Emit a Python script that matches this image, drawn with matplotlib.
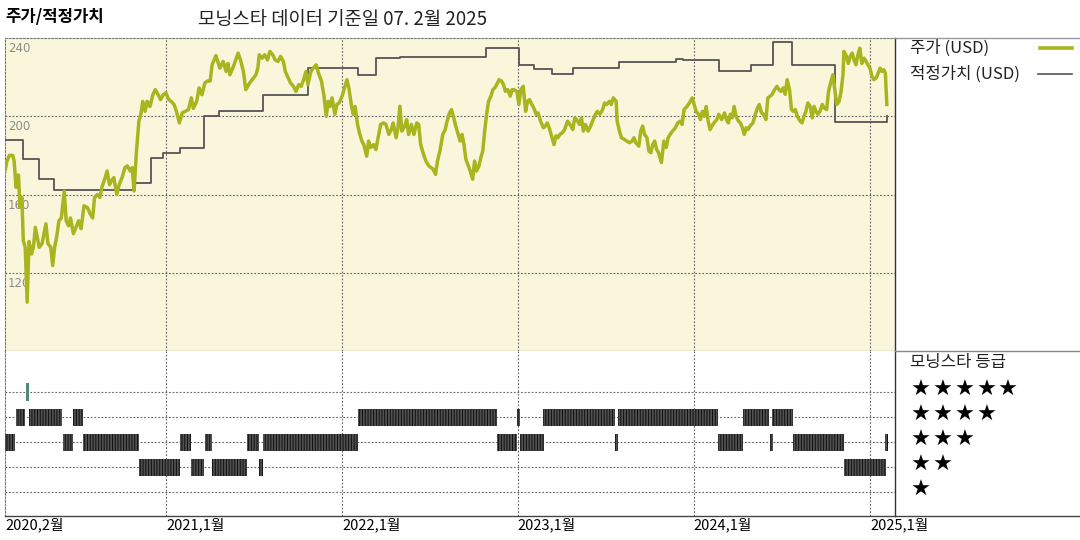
import matplotlib
matplotlib.use('Agg')
import matplotlib.pyplot as plt
import pandas as pd
from matplotlib.lines import Line2D

plt.rcParams['font.family'] = ['Noto Sans CJK KR', 'DejaVu Sans']
plt.rcParams['hatch.linewidth'] = 0.7

# ---------------- data ----------------
start_date = pd.Timestamp('2020-02-01')   # day 0
end_day = 1848                            # right edge of the time axis (days from start)

# price (USD): (days since start, price)
price_a = [(0,172),(4,177),(9,180),(16,180),(19,177),(23,163.6),(28,170),(31,153.4),(35,158.5),(38,136.4),
           (42,133),(46,105),(50,136),(55,129.6),(59,133),(63,143.2),(67,138),(71,133),(77,135),(81,140),
           (85,145),(89,135),(95,133),(99,123.7),(103,133),(107,138),(112,146.6),(117,148),(123,161.8),(127,146.6),
           (132,144),(136,148),(142,140),(147,143),(153,146.6),(158,142.5),(164,154.2),(171,153.4),(177,150),(182,148),
           (186,158.5),(192,160),(197,158.5),(201,163.6),(208,168.6),(212,172),(217,165),(221,167),(226,168.6),(232,160),
           (237,165),(243,168.6),(249,173.7),(254,174.6),(260,172),(264,173.7),(268,161.8),(273,182.2),(278,197.5),(282,200.9),
           (286,207.6),(291,202.5),(295,207.6),(301,205),(307,211),(312,213.6),(318,211),(323,208.5),(329,211),(334,212),
           (340,208.5),(345,207.6),(351,206),(356,202.5),(362,196.6),(368,201.7),(374,202.5),(381,203.4),(387,209.4),(391,204),
           (398,207.6),(403,214.5),(409,211),(415,217),(420,218),(426,218),(430,226.3),(438,231)]
price_b = [(446,224.6),(453,228),(459,222.9),(463,227),(467,221.2),(473,224.6),(478,228),(484,232.3),(489,228.8),(495,222.9),
           (500,213.6),(506,216.2),(511,218),(516,219.6),(521,221.2),(525,224.6),(528,231.4),(534,229.7),(539,231.4),(545,228.8),
           (550,233.1),(556,231.4),(561,228.8),(567,228),(572,230.6),(578,228),(582,222.9),(588,219.6),(593,217),(599,215.3),
           (604,212.7),(610,216.2),(615,215.3),(619,218),(625,222.9),(629,216.2),(635,222.9),(640,224.6),(646,226.3),(651,222),
           (657,218),(662,211),(667,200),(671,207.6),(675,205),(679,209.4),(685,201),(689,206),(694,206.8),(700,210.3),
           (705,214.5),(710,218.7),(714,214.5),(719,206),(723,201),(727,205),(732,195.8),(736,191.5),(741,187.3),(745,185.5),
           (751,179.6),(755,187.3),(759,184),(765,185.5),(770,183),(776,190.7),(780,195.8),(786,196.6),(791,195.8),(797,190.7),
           (802,193.2),(806,196.6),(812,189),(816,194),(820,205.1),(824,192.4),(830,195),(834,198.3),(838,190.7),(844,195.8),
           (849,190.7),(855,196.6),(859,195.8),(863,185.6),(869,180.5),(874,177.1),(880,174.6),(885,173.7),(889,172.9),(894,170.3),
           (898,177.1)]
price_c = [(903,182.2),(909,190.7),(914,193.2),(918,197.5),(923,201.7),(927,203.4),(931,200),(935,195.8),(941,190.7),(945,187.3),
           (949,190.7),(953,185.5),(957,178),(961,175.4),(966,172),(971,167.8),(975,177.1),(979,172),(984,174.6),(988,178.8),
           (992,182.2),(996,192.4),(1000,201),(1004,207.6),(1009,210.3),(1013,213.6),(1017,214.5),(1021,216.2),(1026,218.7),(1031,218),
           (1035,216.2),(1039,212.7),(1044,213.6),(1049,210.3),(1053,213.6),(1057,213.6),(1063,212.7),(1067,206),(1071,213.6),(1076,215.3),
           (1081,202.5),(1085,207.6),(1089,208.5),(1094,206),(1098,204.2),(1103,201),(1107,201.7),(1112,197.5),(1118,194.1),(1122,195),
           (1126,196.6),(1130,194.1),(1134,190.7),(1140,185.5),(1144,190),(1148,189),(1152,190.7),(1157,191.5),(1162,193.2),(1168,197.5),
           (1173,195.8),(1179,193.2),(1183,199.2),(1187,198.3),(1193,195.8),(1197,199.2),(1201,192.4),(1205,195.8),(1211,192.4),(1216,195),
           (1220,197.5),(1226,201),(1230,202.5),(1235,201),(1241,203.4),(1245,206.8),(1249,206),(1255,207.6),(1259,206),(1263,209.4),
           (1269,207.6),(1271,197.5),(1276,192.4),(1280,189),(1286,188.2),(1291,187.3),(1297,186.5),(1302,187.3),(1306,189),(1310,186.5),
           (1316,184.7),(1320,192.4),(1324,195),(1328,190.7),(1333,189),(1337,182.2),(1341,181.4),(1345,185.5),(1349,187.3),(1353,183),
           (1357,181.4),(1363,176.3)]
price_d = [(1368,187.3),(1373,184),(1377,189),(1381,190.7),(1386,192.4),(1392,194.1),(1397,196.6),(1402,197.5),(1406,195.8),(1410,203.4),
           (1416,205),(1421,206.8),(1427,209.4),(1431,206),(1435,202.5),(1440,201),(1444,198.3),(1448,202.5),(1452,200),(1456,205),
           (1460,197.5),(1464,193.2),(1468,195),(1472,196.6),(1478,198.3),(1482,201),(1488,198.3),(1494,201.7),(1498,198.3),(1502,196.6),
           (1506,201),(1510,199.2),(1514,205),(1518,200),(1523,197.5),(1527,196.6),(1531,194.1),(1535,190.7),(1539,194.1),(1543,193.2),
           (1547,195),(1553,196.6),(1557,200),(1561,203.4),(1566,206),(1571,201.7),(1575,201),(1580,198.3),(1584,209.4),(1589,210.3),
           (1593,211.2),(1598,213.6),(1603,215.3),(1607,213.6),(1611,212.7),(1616,214.5),(1620,211.2),(1624,218.7),(1629,213.6),(1633,203.4),
           (1637,202.5),(1641,203.4),(1645,200),(1651,197.5),(1655,196.6),(1659,200),(1663,202.5),(1667,206.8),(1672,205),(1676,199.2),
           (1680,205),(1684,202.5),(1688,201),(1692,202.5),(1697,206),(1701,204.2),(1706,203.4),(1710,212.7),(1715,217.8),(1719,221.2),
           (1723,213.6),(1727,206),(1732,207.6),(1736,212.7),(1740,221.2),(1742,233.1),(1746,231.4),(1751,227),(1755,230.6),(1759,232.3),
           (1763,228.8),(1767,226.3),(1771,231.4),(1775,234.8),(1779,227),(1784,229.7),(1788,228),(1792,226.3),(1796,224.6),(1800,220.4),
           (1804,218.7),(1809,219.6),(1813,222),(1817,224.6),(1821,222.9),(1825,223.7),(1828,222),(1831,206)]

# fair value (USD), step changes: (days since start, value)
fair_value = [(0,188),(38,178),(70,168),(102,162.2),(269,166),(303,178.8),(329,181.2),(363,184),(413,200),(445,202.7),
              (536,211),(629,224.6),(733,220.9),(770,229.7),(820,230.5),(999,234.8),(1068,226),(1098,224.1),(1136,221.7),(1180,224.6),
              (1274,227.6),(1393,229.4),(1407,228.7),(1482,222.9),(1549,226),(1594,237.9),(1635,226),(1723,197),(1829,197),(1831,200)]

# Morningstar rating periods: (start day, end day)
rating_5 = [(44,50)]
rating_4 = [(23,42),(50,118),(141,161),(732,1022),(1064,1069),(1118,1267),(1272,1481),(1533,1587),(1593,1636)]
rating_3 = [(0,21),(120,141),(161,278),(363,387),(415,430),(502,527),(536,732),(1022,1064),(1069,1119),
            (1267,1272),(1481,1533),(1588,1594),(1636,1742),(1828,1833)]
rating_2 = [(278,363),(386,413),(430,502),(528,536),(1742,1829)]
rating_1 = []

x_tick_dates = ['2020-02-01', '2021-01-01', '2022-01-01', '2023-01-01', '2024-01-01', '2025-01-01']
x_tick_labels = ['2020,2월', '2021,1월', '2022,1월', '2023,1월', '2024,1월', '2025,1월']
y_ticks = [240, 200, 160, 120, 80]
star_counts = [5, 4, 3, 2, 1]

title_left = '주가/적정가치'
title_main = '모닝스타 데이터 기준일 07. 2월 2025'
legend_price = '주가 (USD)'
legend_fair = '적정가치 (USD)'
rating_title = '모닝스타 등급'

# ---------------- styling ----------------
GREEN = '#a8b51e'
GREY = '#555555'
BG = '#faf6dc'
GRID = '#666666'
DOT = (0, (1.6, 1.6))

W, H = 1080, 540
def fx(px): return px / W
def fy(py): return 1 - py / H

fig = plt.figure(figsize=(10.8, 5.4), dpi=100)
fig.patch.set_facecolor('white')

ax1 = fig.add_axes([fx(5), fy(351), fx(895) - fx(5), fy(38) - fy(351)])
ax2 = fig.add_axes([fx(5), fy(516), fx(895) - fx(5), fy(351) - fy(516)])

tick_days = [(pd.Timestamp(d) - start_date).days for d in x_tick_dates]

# --- top panel
price = price_a + price_b + price_c + price_d
p_days = [p[0] for p in price]
p_vals = [p[1] for p in price]
f_days = [p[0] for p in fair_value]
f_vals = [p[1] for p in fair_value]

ax1.set_facecolor(BG)
ax1.set_xlim(0, end_day)
ax1.set_ylim(80, 240)
for v in y_ticks[1:-1]:
    ax1.axhline(v, color=GRID, lw=0.8, ls=DOT, zorder=1)
for d in tick_days[1:]:
    ax1.axvline(d, color=GRID, lw=0.8, ls=DOT, zorder=1)
ax1.plot(f_days, f_vals, drawstyle='steps-post', color=GREY, lw=1.3, zorder=3)
ax1.plot(p_days, p_vals, color=GREEN, lw=2.5, zorder=4, solid_joinstyle='round')
ax1.set_xticks([]); ax1.set_yticks([])
for s in ['top', 'left']:
    ax1.spines[s].set_linestyle(DOT); ax1.spines[s].set_color('#777'); ax1.spines[s].set_linewidth(0.8)
ax1.spines['right'].set_color('#333'); ax1.spines['right'].set_linewidth(1.0)
ax1.spines['bottom'].set_color('#999'); ax1.spines['bottom'].set_linewidth(0.9)

for v in y_ticks:
    ax1.annotate(str(v), xy=(0, v), xycoords=('axes fraction', 'data'), xytext=(2, -3),
                 textcoords='offset points', ha='left', va='top', color='#8c8c8c',
                 fontsize=8.5, annotation_clip=False, family=['DejaVu Sans'])

# --- bottom panel (ratings)
ax2.set_facecolor('white')
ax2.set_xlim(0, end_day)
ax2.set_ylim(0.04, 6.64)
for r in [1, 2, 3, 4, 5]:
    ax2.axhline(r, color=GRID, lw=0.8, ls=DOT, zorder=1)
for d in tick_days[1:]:
    ax2.axvline(d, color=GRID, lw=0.8, ls=DOT, zorder=1)

bar_h = 0.68
for r, segs in [(4, rating_4), (3, rating_3), (2, rating_2), (1, rating_1)]:
    if segs:
        ax2.broken_barh([(a, b - a) for a, b in segs], (r - bar_h / 2, bar_h),
                        facecolors='#505050', edgecolor='#111111', hatch='||||||', linewidth=0, zorder=3)
ax2.broken_barh([(a, b - a) for a, b in rating_5], (5 - 0.36, 0.72),
                facecolors='#4d8c73', linewidth=0, zorder=3)

ax2.set_yticks([])
ax2.set_xticks(tick_days)
ax2.set_xticklabels(x_tick_labels, fontsize=10.5, ha='left')
ax2.tick_params(axis='x', length=0, pad=1)
ax2.spines['left'].set_linestyle(DOT); ax2.spines['left'].set_color('#777'); ax2.spines['left'].set_linewidth(0.8)
ax2.spines['top'].set_visible(False)
ax2.spines['right'].set_color('#333'); ax2.spines['right'].set_linewidth(1.0)
ax2.spines['bottom'].set_color('#444'); ax2.spines['bottom'].set_linewidth(1.0)

# --- right-side frame lines
for py, c in [(38, '#999999'), (351, '#888888'), (516, '#444444')]:
    fig.add_artist(Line2D([fx(895), fx(1080)], [fy(py), fy(py)], color=c, lw=1.0, transform=fig.transFigure))

# --- titles
fig.text(fx(5), fy(17), title_left, fontsize=12, fontweight='bold', ha='left', va='center')
fig.text(fx(198), fy(20), title_main, fontsize=13.5, ha='left', va='center', color='#222')

# --- legend
fig.text(fx(910), fy(48), legend_price, fontsize=12, ha='left', va='center', color='#222')
fig.text(fx(910), fy(74), legend_fair, fontsize=12, ha='left', va='center', color='#222')
fig.add_artist(Line2D([fx(1040), fx(1072)], [fy(48), fy(48)], color=GREEN, lw=2.6, transform=fig.transFigure))
fig.add_artist(Line2D([fx(1038), fx(1072)], [fy(74), fy(74)], color=GREY, lw=1.2, transform=fig.transFigure))

# --- rating legend
fig.text(fx(910), fy(362), rating_title, fontsize=12, ha='left', va='center', color='#222')
for i, n in enumerate(star_counts):
    for k in range(n):
        fig.text(fx(911 + 21.7 * k), fy(390 + 25 * i), '★', fontsize=16, ha='left', va='center',
                 family=['DejaVu Sans'], color='black')

fig.savefig('out.png', dpi=100)
